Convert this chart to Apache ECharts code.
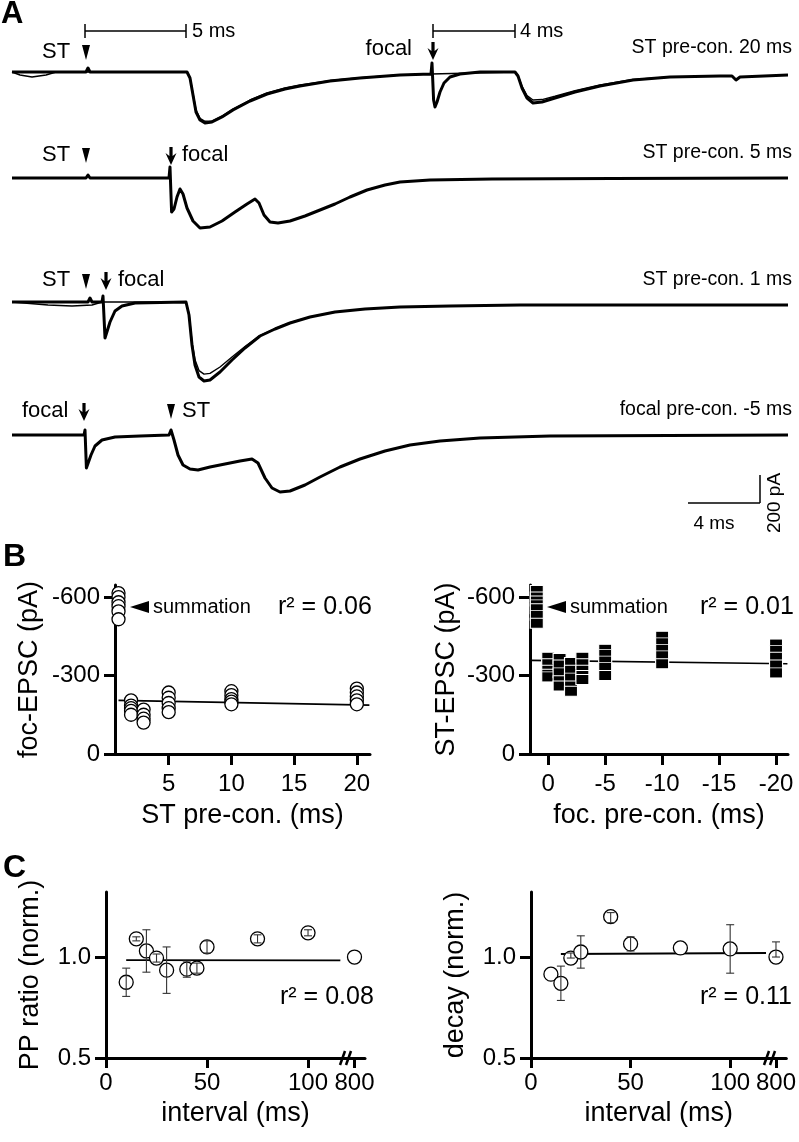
<!DOCTYPE html>
<html>
<head>
<meta charset="utf-8">
<script src="https://cdn.jsdelivr.net/npm/echarts@6/dist/echarts.min.js"></script>
<style>
html,body{margin:0;padding:0;background:#fff;}
#chart{width:799px;height:1142px;}
</style>
</head>
<body>
<div id="chart"></div>
<script>
// ---------------- DATA ----------------
// Panel A traces: [time (ms), current (pA)], baseline = 0
const traceST20 = [[0,0],[3.7,0],[3.8,28],[3.9,0],[8.75,0],[8.9,-42],[9.05,-161],[9.2,-280],[9.4,-336],[9.65,-357],[10.0,-350],[10.5,-315],[11.05,-266],[11.9,-203],[12.75,-154],[13.65,-119],[14.4,-98],[15.9,-63],[17.4,-42],[19.4,-21],[20.95,-14],[21.0,63],[21.08,-196],[21.15,-245],[21.25,-210],[21.4,-140],[21.6,-77],[21.9,-35],[22.4,-14],[23.4,0],[25.15,0],[25.3,-28],[25.5,-112],[25.75,-182],[26.05,-217],[26.5,-210],[27.15,-182],[28.15,-140],[29.4,-98],[31.05,-56],[32.9,-35],[35.4,-28],[36.0,-28],[36.2,-56],[36.4,-35],[38.8,-21]];
const traceST20b = [[0,0],[0.4,-21],[1.0,-35],[1.7,-21],[2.2,0],[8.75,0],[8.9,-40],[9.05,-150],[9.2,-265],[9.4,-325],[9.65,-345],[10.0,-342],[10.5,-308],[11.05,-258],[11.9,-196],[12.75,-147],[13.65,-112],[14.4,-91],[15.9,-60],[17.4,-40],[19.4,-21],[20.95,-14],[25.15,0],[25.3,-25],[25.5,-100],[25.75,-165],[26.05,-196],[26.5,-193],[27.15,-170],[28.15,-130],[29.4,-91],[31.05,-52],[32.9,-35]];
const traceST5 = [[0,0],[3.7,0],[3.8,21],[3.9,0],[7.85,0],[7.9,77],[7.98,-238],[8.1,-217],[8.25,-133],[8.4,-77],[8.55,-112],[8.75,-210],[9.05,-301],[9.4,-350],[9.9,-343],[10.5,-301],[11.15,-238],[11.75,-182],[12.15,-147],[12.35,-175],[12.6,-259],[12.9,-308],[13.3,-315],[13.9,-301],[14.65,-266],[15.4,-224],[16.15,-182],[16.9,-133],[17.75,-84],[18.65,-49],[19.4,-28],[20.9,-14],[24,-7],[30,-3],[38.8,0]];
const traceST1 = [[0,0],[3.8,0],[3.9,28],[4.0,0],[4.5,0],[4.55,42],[4.65,-252],[4.75,-238],[4.9,-140],[5.15,-63],[5.5,-28],[6.15,-7],[8.7,0],[8.85,-91],[9.0,-301],[9.15,-441],[9.35,-525],[9.6,-553],[9.9,-546],[10.4,-490],[11.0,-406],[11.65,-322],[12.4,-238],[13.15,-189],[13.9,-147],[14.9,-105],[16.15,-70],[17.65,-49],[19.4,-35],[21.9,-28],[25.4,-21],[31.9,-21],[38.8,-21]];
const traceST1b = [[0,0],[1.8,-21],[3.0,-28],[4.0,-21],[4.5,0],[8.7,0],[8.85,-80],[9.0,-280],[9.15,-405],[9.35,-480],[9.6,-505],[9.9,-500],[10.4,-455],[11.0,-385],[11.65,-312],[12.4,-235],[13.15,-186],[13.9,-145],[14.9,-104],[16.15,-70]];
const traceFoc5 = [[0,0],[3.6,0],[3.65,35],[3.72,-231],[3.8,-217],[3.95,-140],[4.15,-77],[4.5,-35],[5.15,-14],[6.4,-7],[7.85,0],[7.95,35],[8.1,-35],[8.3,-140],[8.55,-210],[8.9,-238],[9.3,-245],[9.9,-224],[10.65,-203],[11.4,-182],[12.0,-168],[12.3,-196],[12.65,-301],[13.0,-371],[13.4,-399],[13.9,-392],[14.65,-350],[15.4,-294],[16.4,-224],[17.4,-168],[18.65,-112],[19.9,-70],[21.4,-42],[23.4,-21],[26.9,-7],[38.8,0]];
const traceLabels = ['ST pre-con. 20 ms','ST pre-con. 5 ms','ST pre-con. 1 ms','focal pre-con. -5 ms'];

// Panel B left: foc-EPSC (pA) vs ST pre-con (ms)
const bLeftX = [1, 2, 3, 5, 10, 20];
const bLeftY = [
  [-615,-600,-580,-565,-545,-515],
  [-205,-185,-175,-165,-150],
  [-170,-150,-135,-120],
  [-235,-215,-195,-175,-160],
  [-240,-225,-210,-200,-190],
  [-250,-235,-220,-205,-190]
];
const bLeftFit = [[1,-205],[21,-187]];
const bLeftTicksX = [5,10,15,20];
const bTicksY = [-600,-300,0];

// Panel B right: ST-EPSC (pA) vs foc. pre-con (ms)
const bRightX = [1, 0, -1, -2, -3, -5, -10, -20];
const bRightY = [
  [-625,-600,-585,-570,-555,-530,-500],
  [-370,-345,-320,-305,-295],
  [-365,-340,-310,-280,-260],
  [-350,-320,-290,-260,-240],
  [-370,-345,-320,-300,-285],
  [-400,-380,-355,-330,-300],
  [-450,-425,-400,-375,-345],
  [-420,-395,-370,-340,-310]
];
const bRightFit = [[1.5,-358],[-21,-345]];
const bRightTicksX = [0,-5,-10,-15,-20];

// Panel C left: PP ratio (norm.) vs interval (ms)
const cLeftX = [10,15,20,25,30,40,45,50,75,100,800];
const cLeftY = [0.875,1.09,1.03,0.995,0.935,0.94,0.945,1.05,1.09,1.12,1.0];
const cLeftErr = [0.07,0.01,0.105,0.02,0.115,0.04,0.025,0.03,0.02,0.015,0];
const cLeftFit = [[10,0.985],[116,0.983]];
// Panel C right: decay (norm.) vs interval (ms)
const cRightX = [10,15,20,25,40,50,75,100,800];
const cRightY = [0.915,0.87,0.995,1.025,1.2,1.065,1.045,1.04,1.0];
const cRightErrUp = [0,0.085,0.025,0.08,0.02,0.035,0,0.12,0.075];
const cRightErrDn = [0,0.085,0,0.08,0.03,0.035,0,0.12,0];
const cRightFit = [[15,1.015],[118,1.02]];
const cTicksX = [0,50,100,800];
const cTicksY = [0.5,1.0];

// ---------------- BUILD ----------------
const FONT = '"Liberation Sans", Arial, Helvetica, sans-serif';
// axis break for the 800 ms point
const BRK = {from:110, to:800, at:123};
const mapX = x => x <= BRK.from ? x : BRK.at + (x - BRK.to);
const cTicksDisp = cTicksX.map(mapX);

function pairs(xs, ys){ const out=[]; xs.forEach((x,i)=>ys[i].forEach(y=>out.push([x,y]))); return out; }

function axisBase(ticks, fmt, extra){
  return Object.assign({
    type:'value',
    axisLine:{show:true, onZero:false, lineStyle:{color:'#000', width:3}},
    axisTick:{show:true, customValues:ticks, length:11, lineStyle:{color:'#000', width:3}},
    axisLabel:{customValues:ticks, color:'#000', fontSize:24, fontFamily:FONT, formatter:fmt},
    splitLine:{show:false},
    nameLocation:'middle',
    nameTextStyle:{color:'#000', fontSize:27, fontFamily:FONT}
  }, extra);
}

const grids = [
  {left:12, top:52, width:778, height:110},
  {left:12, top:158, width:778, height:110},
  {left:12, top:282, width:778, height:110},
  {left:12, top:415, width:778, height:110},
  {left:115, top:585, width:255, height:169},
  {left:530, top:585, width:258, height:169},
  {left:106, top:892, width:259, height:166},
  {left:531, top:892, width:259, height:166}
];

const xAxes = [], yAxes = [];
for (let i=0;i<4;i++){
  xAxes.push({gridIndex:i, type:'value', min:0, max:38.9, show:false});
  yAxes.push({gridIndex:i, type:'value', min:-630, max:140, show:false});
}
const fmtNum = v => String(v);
xAxes.push(axisBase(bLeftTicksX, fmtNum, {gridIndex:4, min:0.72, max:21.05, name:'ST pre-con. (ms)', nameGap:48}));
xAxes[4].axisLabel.margin = 18;
yAxes.push(axisBase(bTicksY, fmtNum, {gridIndex:4, min:-646, max:0, inverse:true, name:'foc-EPSC (pA)', nameGap:72, nameRotate:90}));
yAxes[4].axisLabel.margin = 15;
xAxes.push(axisBase(bRightTicksX, fmtNum, {gridIndex:5, min:-21.05, max:1.6, inverse:true, name:'foc. pre-con. (ms)', nameGap:48}));
xAxes[5].axisLabel.margin = 18;
yAxes.push(axisBase(bTicksY, fmtNum, {gridIndex:5, min:-646, max:0, inverse:true, name:'ST-EPSC (pA)', nameGap:70, nameRotate:90}));
yAxes[5].axisLabel.margin = 15;
const fmtC = v => { const k = cTicksDisp.indexOf(v); return k>=0 ? String(cTicksX[k]) : ''; };
const fmtY = v => v.toFixed(1);
xAxes.push(axisBase(cTicksDisp, fmtC, {gridIndex:6, min:0, max:128.2, name:'interval (ms)', nameGap:42}));
xAxes[6].axisLabel.margin = 13; xAxes[6].axisTick.length = 10;
yAxes.push(axisBase(cTicksY, fmtY, {gridIndex:6, min:0.5, max:1.322, name:'PP ratio (norm.)', nameGap:62, nameRotate:90}));
yAxes[6].axisLabel.margin = 15;
xAxes.push(axisBase(cTicksDisp, fmtC, {gridIndex:7, min:0, max:128.2, name:'interval (ms)', nameGap:42}));
xAxes[7].axisLabel.margin = 13; xAxes[7].axisTick.length = 10;
yAxes.push(axisBase(cTicksY, fmtY, {gridIndex:7, min:0.5, max:1.322, name:'decay (norm.)', nameGap:62, nameRotate:90}));
yAxes[7].axisLabel.margin = 15;

const series = [];
[traceST20, traceST5, traceST1, traceFoc5].forEach((tr,i)=>{
  series.push({type:'line', xAxisIndex:i, yAxisIndex:i, data:tr, symbol:'none', clip:false,
    lineStyle:{color:'#000', width:3, join:'round'}, z:3});
});
[[traceST20b,0],[traceST1b,2]].forEach(([tr,i])=>{
  series.push({type:'line', xAxisIndex:i, yAxisIndex:i, data:tr, symbol:'none', clip:false,
    lineStyle:{color:'#000', width:1.4, join:'round'}, z:3});
});
// B left
series.push({type:'line', xAxisIndex:4, yAxisIndex:4, data:bLeftFit, symbol:'none', lineStyle:{color:'#000', width:1.6}, z:2});
series.push({type:'scatter', xAxisIndex:4, yAxisIndex:4, data:pairs(bLeftX,bLeftY), symbol:'circle', symbolSize:13,
  itemStyle:{color:'#fff', borderColor:'#000', borderWidth:1.3, opacity:1}, z:4});
// B right
series.push({type:'line', xAxisIndex:5, yAxisIndex:5, data:bRightFit, symbol:'none', lineStyle:{color:'#000', width:1.6}, z:2});
series.push({type:'scatter', xAxisIndex:5, yAxisIndex:5, data:pairs(bRightX,bRightY), symbol:'rect', symbolSize:[13,10],
  itemStyle:{color:'#000', borderColor:'#fff', borderWidth:1, opacity:1}, z:4});

function errRender(params, api){
  const x = api.value(0), lo = api.value(1), hi = api.value(2);
  if (hi - lo <= 0) return null;
  const p1 = api.coord([x, hi]), p2 = api.coord([x, lo]);
  const w = 4, st = {stroke:'#333', lineWidth:1.1};
  return {type:'group', children:[
    {type:'line', shape:{x1:p1[0],y1:p1[1],x2:p2[0],y2:p2[1]}, style:st},
    {type:'line', shape:{x1:p1[0]-w,y1:p1[1],x2:p1[0]+w,y2:p1[1]}, style:st},
    {type:'line', shape:{x1:p2[0]-w,y1:p2[1],x2:p2[0]+w,y2:p2[1]}, style:st}
  ]};
}
// C left
series.push({type:'line', xAxisIndex:6, yAxisIndex:6, data:cLeftFit, symbol:'none', lineStyle:{color:'#000', width:1.8}, z:2});
series.push({type:'scatter', xAxisIndex:6, yAxisIndex:6, data:cLeftX.map((x,i)=>[mapX(x), cLeftY[i]]), symbol:'circle', symbolSize:14,
  itemStyle:{color:'#fff', borderColor:'#000', borderWidth:1.3, opacity:1}, z:4});
series.push({type:'custom', xAxisIndex:6, yAxisIndex:6, renderItem:errRender, encode:{x:0, y:[1,2]},
  data:cLeftX.map((x,i)=>[mapX(x), cLeftY[i]-cLeftErr[i], cLeftY[i]+cLeftErr[i]]), z:5});
// C right
series.push({type:'line', xAxisIndex:7, yAxisIndex:7, data:cRightFit, symbol:'none', lineStyle:{color:'#000', width:1.8}, z:2});
series.push({type:'scatter', xAxisIndex:7, yAxisIndex:7, data:cRightX.map((x,i)=>[mapX(x), cRightY[i]]), symbol:'circle', symbolSize:14,
  itemStyle:{color:'#fff', borderColor:'#000', borderWidth:1.3, opacity:1}, z:4});
series.push({type:'custom', xAxisIndex:7, yAxisIndex:7, renderItem:errRender, encode:{x:0, y:[1,2]},
  data:cRightX.map((x,i)=>[mapX(x), cRightY[i]-cRightErrDn[i], cRightY[i]+cRightErrUp[i]]), z:5});

// ---------------- ANNOTATIONS ----------------
const g = [];
function txt(x,y,text,size,align,opts){ g.push(Object.assign({type:'text', x:x, y:y, z:10, style:{text:text, fill:'#000', font:(opts&&opts.bold?'bold ':'')+size+'px '+FONT, textAlign:align||'left', textVerticalAlign:'middle'}}, opts&&opts.rot?{rotation:opts.rot}:{})); }
function ln(x1,y1,x2,y2,w){ g.push({type:'line', z:10, shape:{x1,y1,x2,y2}, style:{stroke:'#000', lineWidth:w||1.5}}); }
function stHead(cx,ty){ g.push({type:'polygon', z:10, shape:{points:[[cx-4,ty],[cx+4,ty],[cx,ty+15]]}, style:{fill:'#000'}}); }
function focArrow(cx,ty){ g.push({type:'polygon', z:10, shape:{points:[[cx-1.6,ty],[cx+1.6,ty],[cx+1.6,ty+9],[cx+5.5,ty+6],[cx,ty+18],[cx-5.5,ty+6],[cx-1.6,ty+9]]}, style:{fill:'#000'}}); }

txt(1,14,'A',31,'left',{bold:true});
txt(3,557,'B',32,'left',{bold:true});
txt(3,868,'C',32,'left',{bold:true});

// scale bars in A
ln(85,31,186,31,1.5); ln(85,24,85,38,1.5); ln(186,24,186,38,1.5); txt(192,31,'5 ms',20);
ln(433,31,515,31,1.5); ln(433,24,433,38,1.5); ln(515,24,515,38,1.5); txt(520,31,'4 ms',20);
ln(688,503,760,503,1.5); ln(760,475,760,503,1.5); txt(714,524,'4 ms',19,'center');
txt(775,503,'200 pA',19,'center',{rot:Math.PI/2});

// stimulus markers
txt(42,52,'ST',22); stHead(86,45); txt(412,49,'focal',22,'right'); focArrow(433,42);
txt(42,155,'ST',22); stHead(86,148); focArrow(171,147); txt(182,155,'focal',22);
txt(42,280,'ST',22); stHead(86,274); focArrow(106,272); txt(118,280,'focal',22);
txt(22,411,'focal',22); focArrow(84,403); stHead(171,404); txt(182,411,'ST',22);
// row labels
txt(792,48,traceLabels[0],19.5,'right');
txt(792,153,traceLabels[1],19.5,'right');
txt(792,280,traceLabels[2],19.5,'right');
txt(792,410,traceLabels[3],19.5,'right');

// B annotations
g.push({type:'polygon', z:10, shape:{points:[[130,607],[149,601],[149,613]]}, style:{fill:'#000'}});
txt(153,607,'summation',20);
txt(278,607,'r\u00B2 = 0.06',25);
g.push({type:'polygon', z:10, shape:{points:[[547,607],[566,601],[566,613]]}, style:{fill:'#000'}});
txt(570,607,'summation',20);
txt(700,607,'r\u00B2 = 0.01',25);
// C annotations
txt(280,997,'r\u00B2 = 0.08',25);
txt(700,997,'r\u00B2 = 0.11',25);
// axis break marks
ln(340,1065,345,1051,2.5); ln(346,1065,351,1051,2.5);
ln(764,1065,769,1051,2.5); ln(770,1065,775,1051,2.5);

const chart = echarts.init(document.getElementById('chart'), null, {renderer:'canvas'});
chart.setOption({
  backgroundColor:'#fff',
  animation:false,
  textStyle:{fontFamily:FONT},
  grid:grids, xAxis:xAxes, yAxis:yAxes, series:series, graphic:g
});
</script>
</body>
</html>
